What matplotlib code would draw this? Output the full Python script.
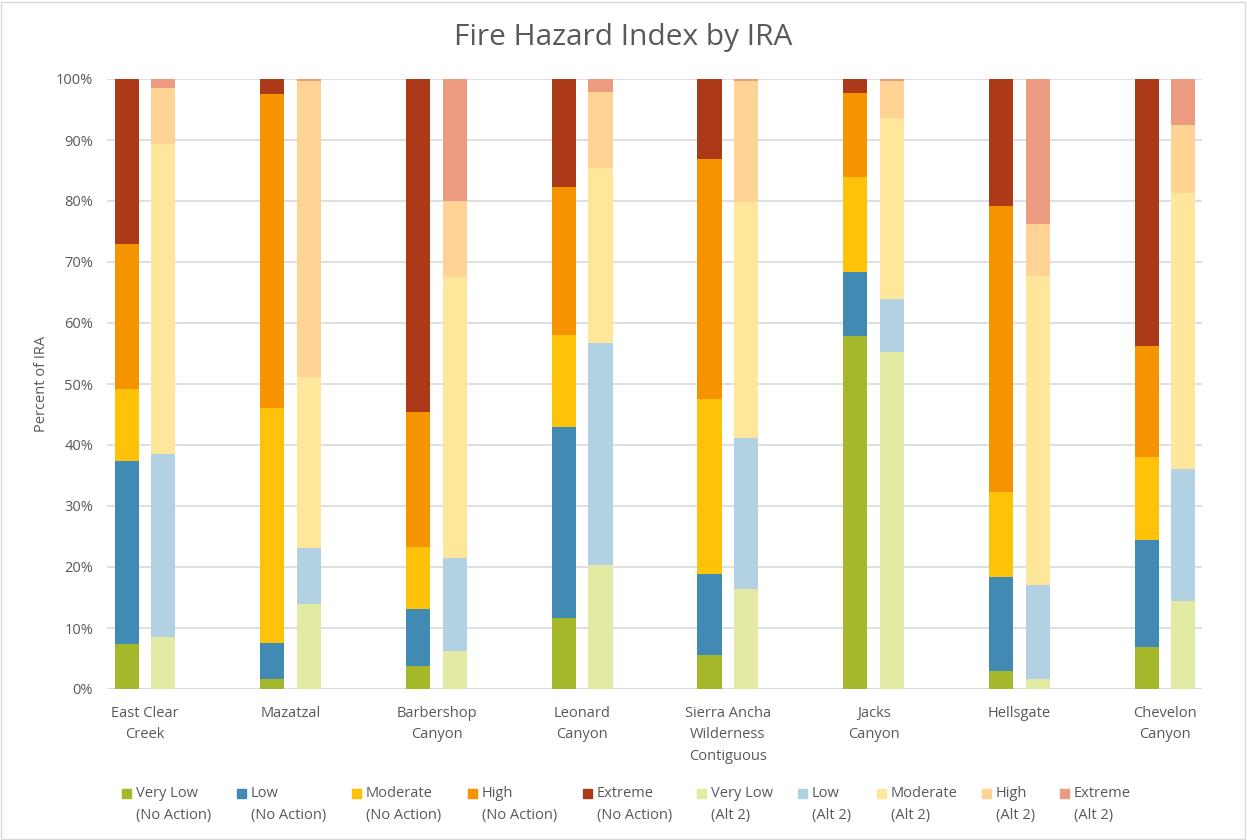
import matplotlib
matplotlib.use("Agg")
import matplotlib.pyplot as plt
from matplotlib.patches import Rectangle
import numpy as np

# Inventoried Roadless Areas
iras = ["East Clear\nCreek", "Mazatzal", "Barbershop\nCanyon", "Leonard\nCanyon",
        "Sierra Ancha\nWilderness\nContiguous", "Jacks\nCanyon", "Hellsgate",
        "Chevelon\nCanyon"]

# Percent of each IRA in each hazard class, No Action alternative
no_action_very_low = [7.3, 1.7, 3.7, 11.6, 5.6, 57.9, 3.0, 6.9]
no_action_low = [30.0, 5.9, 9.4, 31.4, 13.2, 10.5, 15.3, 17.6]
no_action_moderate = [11.9, 38.5, 10.2, 15.0, 28.7, 15.5, 14.0, 13.5]
no_action_high = [23.8, 51.5, 22.1, 24.3, 39.4, 13.8, 46.8, 18.3]
no_action_extreme = [27.0, 2.4, 54.6, 17.7, 13.1, 2.3, 20.9, 43.7]

# Percent of each IRA in each hazard class, Alternative 2
alt2_very_low = [8.6, 14.0, 6.2, 20.4, 16.4, 55.3, 1.7, 14.5]
alt2_low = [29.9, 9.1, 15.2, 36.3, 24.7, 8.6, 15.4, 21.6]
alt2_moderate = [50.8, 28.0, 46.1, 28.7, 38.7, 29.7, 50.6, 45.2]
alt2_high = [9.2, 48.6, 12.5, 12.5, 19.8, 6.1, 8.6, 11.1]
alt2_extreme = [1.5, 0.3, 20.0, 2.1, 0.4, 0.3, 23.7, 7.6]

classes = ["Very Low", "Low", "Moderate", "High", "Extreme"]
y_ticks = list(range(0, 101, 10))

no_action = [no_action_very_low, no_action_low, no_action_moderate,
             no_action_high, no_action_extreme]
alt2 = [alt2_very_low, alt2_low, alt2_moderate, alt2_high, alt2_extreme]

no_action_colors = ["#A5B72A", "#418AB3", "#FEC308", "#F59300", "#AC3A18"]
alt2_colors = ["#E2EAA4", "#B2D1E2", "#FEE69B", "#FED394", "#EC9A80"]

text_color = "#595959"
grid_color = "#D9D9D9"
font = ["Open Sans", "DejaVu Sans"]
plt.rcParams["font.family"] = font

fig = plt.figure(figsize=(12.47, 8.40), dpi=100)
ax = fig.add_axes([107 / 1247, 1 - 689 / 840, 1095 / 1247, 610 / 840])

x = np.arange(len(iras))
offset = 0.126
width = 0.165

bottom_na = np.zeros(len(iras))
bottom_a2 = np.zeros(len(iras))
for vals, col in zip(no_action, no_action_colors):
    ax.bar(x - offset, vals, width, bottom=bottom_na, color=col, zorder=3)
    bottom_na += np.array(vals)
for vals, col in zip(alt2, alt2_colors):
    ax.bar(x + offset, vals, width, bottom=bottom_a2, color=col, zorder=3)
    bottom_a2 += np.array(vals)

ax.set_xlim(-0.261, 7.254)
ax.set_ylim(0, 100)
ax.set_yticks(y_ticks)
ax.set_yticklabels([f"{t}%" for t in y_ticks])
ax.yaxis.grid(True, color=grid_color, linewidth=1.2, zorder=0)
ax.set_axisbelow(True)
for s in ax.spines.values():
    s.set_visible(False)
ax.axhline(0, color=grid_color, linewidth=1.2, zorder=2)

ax.set_xticks(x)
ax.set_xticklabels(iras, linespacing=1.6)
ax.tick_params(axis="both", length=0, colors=text_color, labelsize=10.5)
ax.tick_params(axis="x", pad=12)
ax.tick_params(axis="y", pad=10)

ax.set_ylabel("Percent of IRA", color=text_color, fontsize=10.5, labelpad=5)

fig.text(0.5, 1 - 37 / 840, "Fire Hazard Index by IRA", ha="center",
         va="center", fontsize=21.5, color=text_color)

# Legend drawn as two-line entries with the swatch beside the first line
legend_x = [122, 237, 352, 468, 583, 697, 798, 877, 982, 1060]
legend_labels = [f"{c}\n(No Action)" for c in classes] + [f"{c}\n(Alt 2)" for c in classes]
legend_colors = no_action_colors + alt2_colors
W, H = 1247, 840
for lx, lab, col in zip(legend_x, legend_labels, legend_colors):
    fig.add_artist(Rectangle((lx / W, 1 - 798 / H), 9 / W, 9 / H,
                             transform=fig.transFigure, color=col))
    fig.text((lx + 14) / W, 1 - 786 / H, lab, ha="left", va="top",
             fontsize=10.5, color=text_color, linespacing=1.6)

fig.add_artist(Rectangle((1 / W, 1 / H), 1 - 3 / W, 1 - 3 / H,
                         transform=fig.transFigure, fill=False,
                         edgecolor=grid_color, linewidth=1))

fig.savefig("out.png", dpi=100, facecolor="white")
